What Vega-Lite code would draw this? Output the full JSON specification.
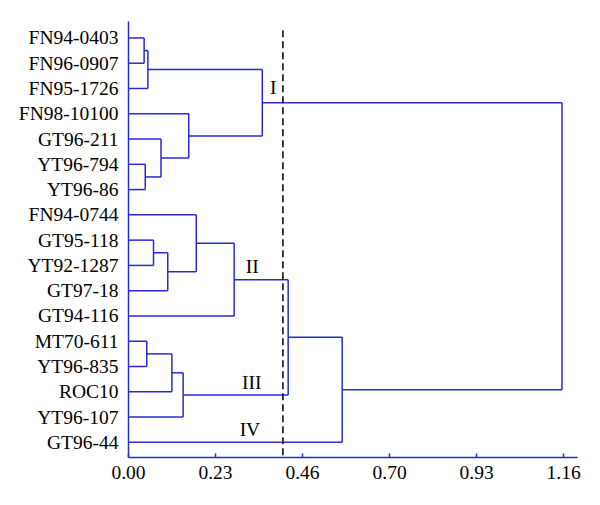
{
  "$schema": "https://vega.github.io/schema/vega-lite/v6.json",
  "width": 449,
  "height": 436,
  "autosize": {"type": "none"},
  "padding": {"left": 128, "top": 21, "right": 23, "bottom": 48},
  "background": "white",
  "config": {
    "view": {"stroke": null},
    "font": "Liberation Serif",
    "axis": {
      "labelFont": "Liberation Serif",
      "labelFontSize": 19.5,
      "labelColor": "black",
      "labelOverlap": false,
      "labelFlush": false,
      "labelBound": false,
      "grid": false,
      "domainColor": "#2a2ad4",
      "domainWidth": 1.5,
      "tickColor": "#2a2ad4",
      "tickWidth": 1.5
    }
  },
  "datasets": {
    "segs": [
      {"x": 0, "x2": 0.043, "y": 0, "y2": 0},
      {"x": 0, "x2": 0.043, "y": 1, "y2": 1},
      {"x": 0.043, "x2": 0.043, "y": 0, "y2": 1},
      {"x": 0.043, "x2": 0.053, "y": 0.5, "y2": 0.5},
      {"x": 0, "x2": 0.053, "y": 2, "y2": 2},
      {"x": 0.053, "x2": 0.053, "y": 0.5, "y2": 2},
      {"x": 0, "x2": 0.046, "y": 5, "y2": 5},
      {"x": 0, "x2": 0.046, "y": 6, "y2": 6},
      {"x": 0.046, "x2": 0.046, "y": 5, "y2": 6},
      {"x": 0, "x2": 0.088, "y": 4, "y2": 4},
      {"x": 0.046, "x2": 0.088, "y": 5.5, "y2": 5.5},
      {"x": 0.088, "x2": 0.088, "y": 4, "y2": 5.5},
      {"x": 0, "x2": 0.162, "y": 3, "y2": 3},
      {"x": 0.088, "x2": 0.162, "y": 4.75, "y2": 4.75},
      {"x": 0.162, "x2": 0.162, "y": 3, "y2": 4.75},
      {"x": 0.053, "x2": 0.358, "y": 1.25, "y2": 1.25},
      {"x": 0.162, "x2": 0.358, "y": 3.875, "y2": 3.875},
      {"x": 0.358, "x2": 0.358, "y": 1.25, "y2": 3.875},
      {"x": 0, "x2": 0.068, "y": 8, "y2": 8},
      {"x": 0, "x2": 0.068, "y": 9, "y2": 9},
      {"x": 0.068, "x2": 0.068, "y": 8, "y2": 9},
      {"x": 0.068, "x2": 0.106, "y": 8.5, "y2": 8.5},
      {"x": 0, "x2": 0.106, "y": 10, "y2": 10},
      {"x": 0.106, "x2": 0.106, "y": 8.5, "y2": 10},
      {"x": 0, "x2": 0.182, "y": 7, "y2": 7},
      {"x": 0.106, "x2": 0.182, "y": 9.25, "y2": 9.25},
      {"x": 0.182, "x2": 0.182, "y": 7, "y2": 9.25},
      {"x": 0.182, "x2": 0.283, "y": 8.125, "y2": 8.125},
      {"x": 0, "x2": 0.283, "y": 11, "y2": 11},
      {"x": 0.283, "x2": 0.283, "y": 8.125, "y2": 11},
      {"x": 0, "x2": 0.05, "y": 12, "y2": 12},
      {"x": 0, "x2": 0.05, "y": 13, "y2": 13},
      {"x": 0.05, "x2": 0.05, "y": 12, "y2": 13},
      {"x": 0.05, "x2": 0.117, "y": 12.5, "y2": 12.5},
      {"x": 0, "x2": 0.117, "y": 14, "y2": 14},
      {"x": 0.117, "x2": 0.117, "y": 12.5, "y2": 14},
      {"x": 0.117, "x2": 0.147, "y": 13.25, "y2": 13.25},
      {"x": 0, "x2": 0.147, "y": 15, "y2": 15},
      {"x": 0.147, "x2": 0.147, "y": 13.25, "y2": 15},
      {"x": 0.283, "x2": 0.427, "y": 9.5625, "y2": 9.5625},
      {"x": 0.147, "x2": 0.427, "y": 14.125, "y2": 14.125},
      {"x": 0.427, "x2": 0.427, "y": 9.5625, "y2": 14.125},
      {"x": 0.427, "x2": 0.571, "y": 11.84375, "y2": 11.84375},
      {"x": 0, "x2": 0.571, "y": 16, "y2": 16},
      {"x": 0.571, "x2": 0.571, "y": 11.84375, "y2": 16},
      {"x": 0.358, "x2": 1.157, "y": 2.5625, "y2": 2.5625},
      {"x": 0.571, "x2": 1.157, "y": 13.921875, "y2": 13.921875},
      {"x": 1.157, "x2": 1.157, "y": 2.5625, "y2": 13.921875}
    ],
    "cut": [{"x": 0.413, "y": -0.3, "y2": 16.58}],
    "groups": [
      {"label": "I", "x": 0.3875, "y": 2.0},
      {"label": "II", "x": 0.331, "y": 9.05},
      {"label": "III", "x": 0.33, "y": 13.65},
      {"label": "IV", "x": 0.325, "y": 15.53}
    ]
  },
  "encoding": {
    "x": {
      "field": "x", "type": "quantitative",
      "scale": {"domain": [0, 1.197], "nice": false, "zero": false},
      "axis": {
        "title": null, "orient": "bottom",
        "values": [0, 0.232, 0.464, 0.696, 0.928, 1.16],
        "format": ".2f",
        "tickSize": -4,
        "labelPadding": 10
      }
    },
    "y": {
      "field": "y", "type": "quantitative",
      "scale": {"domain": [-0.67, 16.58], "reverse": true, "nice": false, "zero": false},
      "axis": {
        "title": null, "orient": "left",
        "values": [0, 1, 2, 3, 4, 5, 6, 7, 8, 9, 10, 11, 12, 13, 14, 15, 16],
        "labelExpr": "['FN94-0403','FN96-0907','FN95-1726','FN98-10100','GT96-211','YT96-794','YT96-86','FN94-0744','GT95-118','YT92-1287','GT97-18','GT94-116','MT70-611','YT96-835','ROC10','YT96-107','GT96-44'][datum.value]",
        "ticks": false,
        "labelPadding": 10
      }
    }
  },
  "layer": [
    {
      "data": {"name": "segs"},
      "mark": {"type": "rule", "color": "#2a2ad4", "strokeWidth": 1.5},
      "encoding": {
        "x2": {"field": "x2"},
        "y2": {"field": "y2"}
      }
    },
    {
      "data": {"name": "cut"},
      "mark": {"type": "rule", "color": "black", "strokeWidth": 1.5, "strokeDash": [7, 4]},
      "encoding": {
        "y2": {"field": "y2"}
      }
    },
    {
      "data": {"name": "groups"},
      "mark": {"type": "text", "font": "Liberation Serif", "fontSize": 19.5, "color": "black", "align": "center", "baseline": "middle"},
      "encoding": {
        "text": {"field": "label"}
      }
    }
  ]
}
